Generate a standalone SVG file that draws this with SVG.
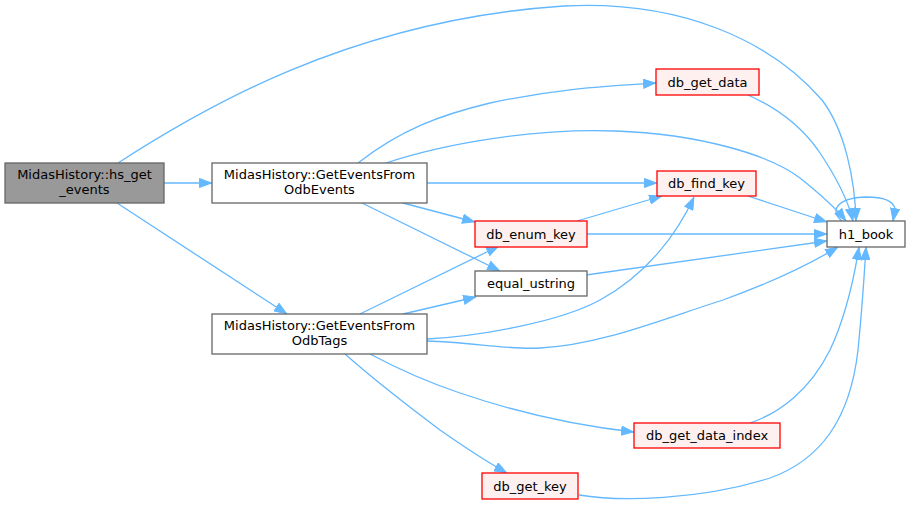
<svg xmlns="http://www.w3.org/2000/svg" width="911" height="505" viewBox="0 0 911 505">
<style>
.n rect{stroke-width:1.3}
.w rect{fill:#ffffff;stroke:#666666}
.r rect{fill:#fff0f0;stroke:#ff0000}
.g rect{fill:#999999;stroke:#666666}
text{font-family:"DejaVu Sans","Liberation Sans",sans-serif;font-size:13px;fill:#000000;text-anchor:middle}
#edges path{fill:none;stroke:#63b8ff;stroke-width:1.3}
</style>
<defs>
<marker id="a" viewBox="0 0 13 10" refX="13" refY="5" markerWidth="13" markerHeight="10" markerUnits="userSpaceOnUse" orient="auto">
<path d="M0.5,0.5 L12.5,5 L0.5,9.5 z" fill="#63b8ff" stroke="#63b8ff" stroke-width="1"/>
</marker>
</defs>
<rect width="911" height="505" fill="#ffffff"/>
<g id="edges">
<path d="M164,183 L212,183" marker-end="url(#a)"/>
<path d="M117,203 L287,314" marker-end="url(#a)"/>
<path d="M118,163 C200,110 350,20 564,6 C680,0 770,40 822,100 C845,130 855,180 856,221" marker-end="url(#a)"/>
<path d="M358,163 C400,130 440,115 490,103 C560,88 610,86 656,83" marker-end="url(#a)"/>
<path d="M386,163 C440,145 530,128 615,131 C700,134 770,155 800,178 C820,194 835,207 846,221" marker-end="url(#a)"/>
<path d="M427,183 L657,183" marker-end="url(#a)"/>
<path d="M403,203 L475,222" marker-end="url(#a)"/>
<path d="M362,203 L500,271" marker-end="url(#a)"/>
<path d="M360,314 L499,246" marker-end="url(#a)"/>
<path d="M403,314 L476,297" marker-end="url(#a)"/>
<path d="M427,339 C480,336 560,322 600,300 C648,274 678,232 694,197" marker-end="url(#a)"/>
<path d="M427,341 C470,342 510,350 540,348 C600,345 660,320 723,300 C770,283 810,264 838,247" marker-end="url(#a)"/>
<path d="M370,354 C400,370 430,383 460,393 C510,410 570,425 634,432" marker-end="url(#a)"/>
<path d="M345,354 C380,385 420,415 440,430 C460,444 480,458 507,473" marker-end="url(#a)"/>
<path d="M748,95 C775,107 800,125 818,150 C835,175 848,200 853,221" marker-end="url(#a)"/>
<path d="M748,196 L827,222" marker-end="url(#a)"/>
<path d="M577,221 L662,196" marker-end="url(#a)"/>
<path d="M587,234 L827,234" marker-end="url(#a)"/>
<path d="M586,275 L827,241" marker-end="url(#a)"/>
<path d="M750,423 C780,413 810,390 830,350 C845,318 853,285 859,247" marker-end="url(#a)"/>
<path d="M579,495 C620,502 700,500 770,478 C820,460 850,420 858,350 C862,310 864,280 866,247" marker-end="url(#a)"/>
<path d="M842,221 C830,212 835,198 866,197 C888,197 894,203 895,209 L893,221" marker-end="url(#a)"/>
</g>
<g id="node_hs_get_events" class="n g"><rect x="5" y="163" width="159" height="40"/><text x="84.5" y="179">MidasHistory::hs_get</text><text x="84.5" y="194">_events</text></g>
<g id="node_GetEventsFromOdbEvents" class="n w"><rect x="212" y="163" width="215" height="40"/><text x="319.5" y="179">MidasHistory::GetEventsFrom</text><text x="319.5" y="194">OdbEvents</text></g>
<g id="node_GetEventsFromOdbTags" class="n w"><rect x="212" y="314" width="215" height="40"/><text x="319.5" y="330">MidasHistory::GetEventsFrom</text><text x="319.5" y="345">OdbTags</text></g>
<g id="node_db_get_data" class="n r"><rect x="656" y="69" width="103" height="26"/><text x="707.5" y="86.5">db_get_data</text></g>
<g id="node_db_find_key" class="n r"><rect x="657" y="171" width="99" height="25"/><text x="706.5" y="188">db_find_key</text></g>
<g id="node_db_enum_key" class="n r"><rect x="475" y="221" width="112" height="26"/><text x="531" y="238.5">db_enum_key</text></g>
<g id="node_equal_ustring" class="n w"><rect x="475" y="271" width="112" height="25"/><text x="531" y="288">equal_ustring</text></g>
<g id="node_h1_book" class="n w"><rect x="827" y="221" width="78" height="26"/><text x="866" y="238.5">h1_book</text></g>
<g id="node_db_get_data_index" class="n r"><rect x="634" y="423" width="146" height="25"/><text x="707" y="440">db_get_data_index</text></g>
<g id="node_db_get_key" class="n r"><rect x="482" y="473" width="96" height="26"/><text x="530" y="490.5">db_get_key</text></g>
</svg>
